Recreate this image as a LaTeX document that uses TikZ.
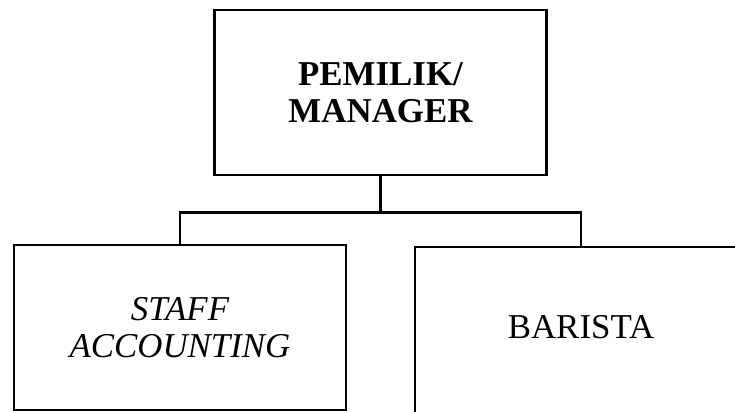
\documentclass[tikz,border=0pt]{standalone}
\usepackage{fontspec}
\setmainfont{Liberation Serif}
\begin{document}
\begin{tikzpicture}[x=1bp, y=-1bp, line width=2.8bp,
    unit/.style = {draw, minimum width=332bp, minimum height=165bp, inner sep=0pt, align=center, font=\fontsize{35}{37}\selectfont}]
    \useasboundingbox (0,0) rectangle (735,411);
    \clip (0,0) rectangle (735,411);
    \node[unit, font=\fontsize{35}{37}\selectfont\bfseries] (boss) at (380.5,92.5) {PEMILIK/\\MANAGER};
    \node[unit] (staff) at (180,327.5) {\itshape STAFF\\\itshape ACCOUNTING};
    \node[unit, minimum height=170bp, text depth=10bp] (barista) at (581,332) {BARISTA};
    \draw (boss.south) -- ++(0,36) -| (staff.north);
    \draw (boss.south) -- ++(0,36) -| (barista.north);
\end{tikzpicture}
\end{document}
